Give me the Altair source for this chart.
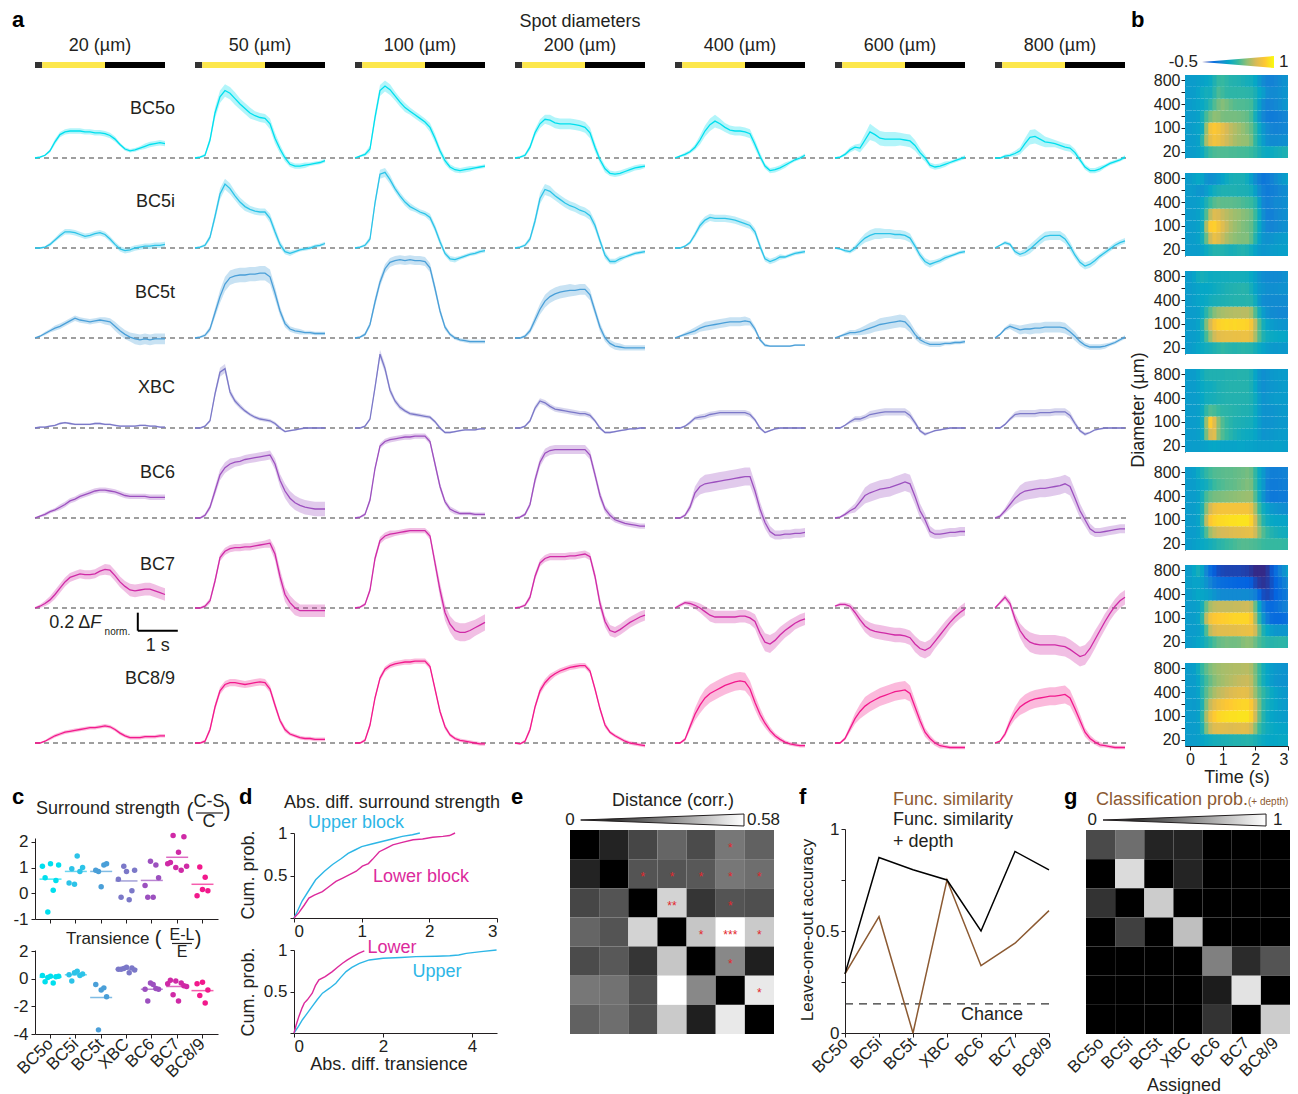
import altair as alt
import pandas as pd

FONT = "Liberation Sans"
INK = "#231f20"
BROWN = "#8c5a32"
CYAN = "#2db6e6"
MAGENTA = "#dc2a9c"

TYPES = ["BC5o", "BC5i", "BC5t", "XBC", "BC6", "BC7", "BC8/9"]
TYPE_COLORS = ["#00dfee", "#2cc3e8", "#4a9fd8", "#7b78c8", "#9c50bf", "#cf2aa6", "#f2198c"]
DIAMS = [20, 50, 100, 200, 400, 600, 800]
DT = 0.125  # s between samples, 27 samples per trace

# ---------------- panel a: mean responses (x100, dF norm.), one list per spot diameter
BC5o_MEAN = [
    [0, 1, 3, 8, 18, 26, 29, 30, 30, 30, 29, 29, 28, 28, 27, 25, 21, 15, 10, 8, 9, 11, 13, 15, 16, 17, 16],
    [0, 1, 3, 20, 50, 68, 75, 72, 66, 60, 55, 50, 47, 45, 44, 38, 22, 10, 0, -7, -9, -9, -8, -7, -6, -5, -3],
    [0, 2, 4, 10, 45, 75, 80, 76, 69, 62, 56, 52, 48, 44, 40, 34, 22, 8, -3, -10, -13, -14, -13, -12, -11, -10, -9],
    [0, 1, 3, 12, 28, 38, 43, 42, 39, 38, 38, 38, 37, 36, 34, 28, 12, -2, -12, -17, -18, -17, -15, -13, -11, -10, -9],
    [0, 2, 4, 7, 12, 20, 30, 37, 41, 38, 34, 31, 30, 30, 29, 27, 15, 2, -9, -14, -13, -11, -8, -5, -2, 0, 3],
    [0, 1, 4, 9, 12, 11, 20, 29, 26, 22, 21, 21, 21, 21, 20, 19, 14, 6, 0, -8, -10, -9, -7, -5, -3, -1, 1],
    [0, 0, 2, 3, 5, 8, 16, 23, 24, 21, 18, 17, 16, 14, 12, 11, 6, -2, -10, -14, -14, -12, -9, -6, -4, -2, 1],
]
BC5i_MEAN = [
    [0, 0, 1, 4, 9, 14, 18, 18, 17, 15, 13, 14, 16, 17, 15, 10, 4, -1, -3, -2, 0, 1, 2, 2, 3, 3, 4],
    [0, 1, 3, 12, 35, 60, 71, 66, 58, 51, 46, 43, 41, 40, 40, 33, 18, 4, -4, -6, -4, -2, -1, 0, 2, 3, 5],
    [0, 1, 3, 10, 50, 82, 84, 76, 66, 58, 51, 46, 43, 40, 38, 34, 22, 7, -6, -12, -13, -11, -9, -7, -6, -4, -3],
    [0, 1, 3, 10, 30, 55, 65, 63, 58, 54, 50, 47, 45, 42, 40, 36, 25, 8, -8, -15, -15, -12, -10, -8, -6, -5, -4],
    [0, 0, 2, 6, 15, 25, 31, 34, 33, 33, 33, 32, 31, 29, 27, 25, 18, 2, -12, -15, -13, -10, -10, -8, -6, -5, -4],
    [0, -1, -3, -4, 0, 6, 11, 14, 16, 16, 16, 16, 15, 15, 14, 11, 2, -8, -15, -18, -16, -14, -11, -9, -7, -5, -4],
    [0, 3, 6, 4, -4, -7, -5, -1, 4, 9, 13, 14, 14, 14, 10, 2, -8, -16, -20, -18, -14, -9, -5, -1, 3, 6, 8],
]
BC5t_MEAN = [
    [0, 2, 5, 8, 11, 13, 16, 19, 22, 20, 19, 18, 19, 20, 19, 18, 13, 8, 4, 1, -1, -2, -1, -2, -1, -1, -1],
    [0, 1, 3, 10, 28, 46, 60, 67, 69, 70, 70, 71, 71, 72, 72, 68, 50, 30, 16, 10, 8, 7, 6, 6, 5, 5, 5],
    [0, 1, 4, 15, 40, 62, 77, 84, 86, 87, 86, 87, 86, 86, 85, 78, 55, 30, 12, 4, 0, -2, -3, -4, -4, -4, -4],
    [0, 0, 2, 8, 20, 32, 41, 46, 49, 51, 52, 53, 53, 54, 54, 48, 30, 12, 0, -6, -9, -10, -11, -11, -11, -11, -11],
    [0, 2, 4, 6, 8, 11, 13, 14, 15, 16, 17, 18, 18, 18, 19, 18, 10, -2, -8, -9, -9, -9, -9, -9, -8, -8, -8],
    [0, 2, 4, 6, 6, 7, 9, 11, 13, 15, 16, 17, 18, 19, 18, 12, 4, -2, -5, -7, -7, -7, -6, -6, -5, -5, -4],
    [0, 4, 10, 13, 11, 9, 10, 10, 11, 11, 12, 12, 12, 12, 11, 7, 2, -4, -8, -10, -10, -10, -9, -7, -5, -2, 1],
]
XBC_MEAN = [
    [0, 1, 1, 2, 3, 5, 6, 5, 4, 4, 4, 4, 5, 5, 4, 4, 3, 2, 2, 2, 2, 3, 3, 2, 2, 1, 1],
    [0, 0, 2, 8, 38, 62, 66, 40, 30, 24, 19, 15, 12, 10, 9, 8, 5, 0, -4, -3, -2, -1, 0, 0, 0, 0, 0],
    [0, 0, 2, 10, 45, 82, 66, 42, 30, 23, 19, 16, 15, 14, 13, 12, 7, 0, -5, -5, -4, -3, -2, -2, -2, -1, -1],
    [0, 0, 2, 8, 22, 30, 28, 24, 21, 20, 19, 18, 17, 16, 16, 14, 8, 0, -5, -5, -4, -3, -2, -1, -1, 0, 0],
    [0, 0, 2, 6, 11, 12, 13, 15, 16, 17, 17, 17, 17, 17, 17, 15, 9, 0, -5, -3, -1, 0, 0, 0, 0, 0, 0],
    [0, 0, 3, 7, 10, 10, 12, 15, 16, 17, 18, 18, 18, 18, 18, 14, 6, -3, -7, -5, -3, -2, -1, 0, 0, 0, 0],
    [0, 0, 4, 10, 15, 16, 16, 16, 16, 17, 17, 17, 18, 18, 18, 14, 5, -3, -7, -5, -2, -1, 0, 0, 0, 0, 0],
]
BC6_MEAN = [
    [0, 2, 4, 7, 9, 12, 15, 19, 21, 24, 26, 28, 30, 31, 31, 30, 29, 27, 25, 24, 24, 24, 24, 23, 23, 23, 23],
    [0, 0, 3, 12, 30, 48, 56, 60, 62, 63, 65, 66, 67, 68, 69, 70, 60, 42, 30, 22, 17, 14, 12, 11, 10, 10, 10],
    [0, 1, 4, 20, 55, 80, 85, 87, 88, 89, 90, 90, 91, 91, 91, 85, 60, 35, 18, 10, 7, 5, 5, 5, 4, 4, 4],
    [0, 1, 4, 15, 42, 62, 72, 75, 76, 76, 76, 76, 76, 76, 76, 70, 48, 25, 10, 3, -2, -4, -6, -7, -8, -9, -9],
    [0, 0, 3, 12, 28, 35, 38, 39, 40, 41, 42, 43, 44, 45, 46, 46, 30, 10, -5, -15, -19, -19, -18, -18, -17, -17, -16],
    [0, 1, 4, 8, 11, 18, 25, 28, 30, 32, 33, 34, 36, 38, 40, 38, 24, 8, -2, -15, -18, -18, -17, -16, -16, -15, -15],
    [0, 2, 8, 15, 22, 27, 30, 31, 32, 33, 33, 34, 35, 36, 38, 35, 22, 8, -2, -12, -16, -16, -15, -14, -13, -12, -12],
]
BC7_MEAN = [
    [0, 2, 5, 9, 15, 22, 29, 34, 36, 38, 37, 37, 38, 41, 43, 42, 36, 29, 24, 20, 19, 20, 21, 21, 19, 17, 15],
    [0, 0, 2, 8, 30, 56, 63, 66, 67, 67, 68, 68, 69, 70, 71, 72, 60, 35, 15, 6, 0, -3, -3, -3, -3, -3, -3],
    [0, 1, 4, 20, 55, 75, 80, 82, 83, 84, 85, 86, 86, 86, 86, 80, 50, 20, -5, -18, -25, -27, -27, -25, -22, -19, -16],
    [0, 1, 3, 12, 35, 50, 55, 57, 57, 57, 57, 58, 58, 59, 60, 57, 35, 5, -15, -25, -27, -24, -20, -16, -13, -10, -8],
    [0, 3, 6, 5, 3, 0, -4, -8, -10, -10, -10, -10, -10, -9, -9, -11, -15, -28, -38, -40, -36, -30, -25, -21, -17, -14, -12],
    [2, 4, 4, 2, -5, -13, -20, -24, -26, -27, -28, -29, -30, -30, -31, -33, -40, -45, -47, -44, -37, -30, -23, -16, -10, -5, -1],
    [0, 6, 12, 5, -12, -25, -33, -38, -40, -41, -41, -41, -41, -42, -43, -46, -50, -54, -52, -45, -35, -25, -15, -6, 2, 8, 12],
]
BC89_MEAN = [
    [0, 0, 2, 5, 8, 10, 12, 13, 14, 15, 16, 17, 17, 18, 19, 18, 15, 11, 8, 6, 6, 6, 7, 7, 7, 8, 8],
    [0, 0, 2, 15, 40, 58, 65, 67, 67, 66, 65, 66, 67, 68, 67, 60, 42, 25, 15, 10, 8, 6, 5, 5, 4, 4, 4],
    [0, 0, 3, 20, 50, 72, 82, 86, 88, 89, 90, 90, 91, 91, 91, 85, 60, 35, 18, 9, 5, 3, 2, 1, 0, -1, -1],
    [0, -1, 2, 15, 40, 58, 67, 73, 77, 80, 82, 84, 85, 86, 86, 80, 60, 38, 20, 12, 8, 5, 2, 0, -1, -2, -3],
    [0, 0, 4, 18, 32, 42, 50, 55, 58, 61, 64, 66, 68, 69, 68, 60, 45, 32, 22, 14, 8, 4, 1, -1, -2, -3, -3],
    [0, 0, 5, 16, 27, 35, 41, 45, 48, 51, 53, 55, 57, 58, 59, 55, 40, 25, 12, 5, 0, -3, -4, -5, -5, -5, -5],
    [0, 2, 10, 23, 33, 40, 44, 47, 49, 50, 51, 52, 52, 53, 54, 50, 38, 25, 12, 5, 1, -2, -3, -4, -5, -5, -5],
]

# s.e.m. (x100)
BC5o_SEM = [
    [1, 1, 1, 2, 3, 3, 3, 3, 3, 3, 3, 3, 3, 3, 3, 3, 3, 2, 2, 2, 2, 2, 3, 3, 3, 3, 3],
    [1, 1, 2, 4, 6, 7, 7, 7, 7, 6, 6, 6, 5, 5, 5, 6, 6, 5, 4, 3, 3, 3, 3, 2, 2, 2, 2],
    [1, 1, 2, 4, 6, 6, 6, 6, 5, 5, 5, 4, 4, 4, 4, 5, 5, 4, 4, 3, 3, 3, 3, 3, 2, 2, 2],
    [1, 1, 2, 3, 4, 5, 5, 6, 6, 6, 6, 6, 6, 6, 6, 6, 5, 4, 4, 3, 3, 3, 3, 3, 3, 3, 2],
    [1, 1, 2, 2, 3, 5, 6, 7, 7, 6, 5, 5, 5, 5, 5, 5, 5, 4, 3, 3, 3, 3, 3, 2, 2, 2, 2],
    [1, 1, 2, 3, 3, 5, 7, 9, 8, 8, 8, 8, 8, 7, 7, 7, 6, 5, 4, 3, 3, 3, 3, 2, 2, 2, 2],
    [1, 1, 2, 2, 3, 4, 6, 8, 8, 7, 6, 5, 4, 4, 4, 4, 4, 3, 3, 3, 3, 3, 2, 2, 2, 2, 2],
]
BC5i_SEM = [
    [1, 1, 1, 2, 2, 3, 3, 3, 3, 3, 3, 3, 3, 3, 3, 3, 3, 3, 3, 3, 3, 3, 3, 3, 3, 3, 3],
    [1, 1, 2, 3, 5, 6, 6, 6, 5, 5, 5, 4, 4, 4, 4, 5, 5, 4, 3, 3, 2, 2, 2, 2, 2, 2, 2],
    [1, 1, 2, 3, 5, 5, 5, 5, 4, 4, 4, 4, 3, 3, 3, 4, 4, 4, 3, 3, 3, 2, 2, 2, 2, 2, 2],
    [1, 1, 2, 3, 5, 6, 6, 6, 5, 5, 5, 5, 5, 5, 5, 5, 5, 4, 4, 3, 3, 3, 2, 2, 2, 2, 2],
    [1, 1, 1, 2, 3, 4, 4, 4, 4, 4, 4, 4, 4, 4, 4, 4, 4, 4, 3, 3, 3, 3, 2, 2, 2, 2, 2],
    [1, 1, 2, 2, 3, 4, 5, 6, 6, 6, 5, 5, 5, 5, 5, 5, 4, 4, 4, 4, 3, 3, 3, 2, 2, 2, 2],
    [1, 1, 2, 2, 3, 3, 4, 5, 5, 5, 5, 5, 5, 5, 5, 5, 4, 4, 4, 4, 4, 3, 3, 3, 3, 3, 3],
]
BC5t_SEM = [
    [1, 1, 2, 2, 3, 3, 3, 3, 3, 3, 3, 3, 3, 3, 4, 4, 5, 5, 5, 5, 6, 6, 6, 6, 6, 6, 6],
    [1, 1, 2, 3, 5, 7, 8, 8, 8, 8, 8, 8, 8, 8, 8, 8, 7, 5, 4, 3, 3, 3, 2, 2, 2, 2, 2],
    [1, 1, 2, 3, 5, 5, 5, 5, 5, 5, 5, 5, 5, 5, 5, 5, 5, 4, 3, 2, 2, 2, 2, 2, 2, 2, 2],
    [1, 1, 2, 3, 5, 6, 7, 7, 7, 7, 7, 7, 6, 6, 6, 6, 5, 5, 4, 4, 4, 4, 3, 3, 3, 3, 3],
    [1, 1, 2, 3, 4, 4, 5, 5, 5, 5, 5, 5, 5, 5, 5, 4, 3, 2, 2, 1, 1, 1, 1, 1, 1, 1, 1],
    [1, 1, 2, 3, 3, 4, 5, 6, 6, 7, 7, 7, 7, 7, 7, 6, 5, 4, 3, 3, 3, 3, 2, 2, 2, 2, 2],
    [1, 1, 2, 3, 4, 5, 5, 6, 6, 6, 6, 6, 6, 6, 6, 5, 5, 4, 3, 3, 3, 3, 3, 2, 2, 2, 2],
]
XBC_SEM = [
    [1, 1, 1, 1, 1, 1, 1, 1, 1, 1, 1, 1, 1, 1, 1, 1, 1, 1, 1, 1, 1, 1, 1, 1, 1, 1, 1],
    [1, 1, 1, 2, 4, 5, 5, 4, 3, 3, 2, 2, 2, 2, 2, 2, 2, 2, 1, 1, 1, 1, 1, 1, 1, 1, 1],
    [1, 1, 1, 2, 4, 5, 5, 4, 3, 3, 2, 2, 2, 2, 2, 2, 2, 2, 1, 1, 1, 1, 1, 1, 1, 1, 1],
    [1, 1, 1, 2, 3, 3, 3, 3, 3, 3, 3, 3, 3, 3, 3, 3, 2, 2, 1, 1, 1, 1, 1, 1, 1, 1, 1],
    [1, 1, 1, 2, 2, 3, 3, 3, 3, 3, 3, 3, 3, 3, 3, 3, 2, 2, 1, 1, 1, 1, 1, 1, 1, 1, 1],
    [1, 1, 1, 2, 3, 3, 3, 4, 4, 4, 4, 4, 4, 4, 4, 4, 3, 2, 2, 1, 1, 1, 1, 1, 1, 1, 1],
    [1, 1, 1, 2, 3, 4, 4, 4, 4, 4, 4, 4, 4, 4, 4, 4, 3, 2, 2, 1, 1, 1, 1, 1, 1, 1, 1],
]
BC6_SEM = [
    [1, 1, 2, 2, 2, 3, 3, 3, 3, 3, 3, 3, 3, 3, 3, 3, 3, 3, 3, 3, 3, 3, 3, 3, 3, 3, 3],
    [1, 1, 2, 3, 5, 6, 6, 6, 5, 5, 5, 5, 5, 5, 5, 5, 6, 7, 8, 8, 8, 8, 8, 8, 8, 8, 8],
    [1, 1, 2, 3, 3, 3, 3, 3, 3, 3, 3, 3, 3, 3, 3, 3, 4, 4, 3, 3, 3, 2, 2, 2, 2, 2, 2],
    [1, 1, 2, 3, 5, 5, 5, 5, 5, 5, 5, 5, 5, 5, 5, 5, 5, 5, 4, 4, 3, 3, 3, 3, 3, 3, 3],
    [1, 1, 2, 4, 7, 9, 10, 10, 10, 10, 10, 10, 10, 10, 10, 10, 9, 8, 7, 6, 5, 5, 5, 5, 5, 5, 5],
    [1, 1, 2, 3, 5, 7, 9, 10, 10, 10, 10, 10, 10, 10, 10, 10, 9, 8, 7, 6, 5, 5, 5, 5, 5, 5, 5],
    [1, 2, 3, 5, 7, 9, 10, 10, 10, 10, 10, 10, 10, 10, 10, 10, 9, 8, 7, 6, 5, 5, 5, 5, 5, 5, 5],
]
BC7_SEM = [
    [1, 2, 3, 4, 5, 5, 5, 5, 5, 5, 5, 5, 5, 5, 6, 6, 6, 6, 6, 7, 7, 7, 7, 7, 7, 7, 7],
    [1, 1, 2, 3, 4, 4, 4, 4, 4, 4, 4, 4, 4, 4, 4, 5, 7, 8, 8, 8, 8, 7, 7, 7, 7, 7, 7],
    [1, 1, 2, 3, 4, 4, 4, 4, 3, 3, 3, 3, 3, 3, 3, 4, 6, 8, 9, 9, 10, 10, 10, 10, 9, 9, 9],
    [1, 1, 2, 3, 4, 4, 4, 4, 4, 4, 4, 4, 4, 4, 4, 4, 5, 6, 6, 6, 6, 6, 6, 6, 6, 6, 6],
    [1, 2, 2, 3, 4, 5, 6, 7, 7, 7, 7, 7, 7, 7, 7, 7, 8, 9, 10, 10, 9, 9, 8, 8, 7, 7, 7],
    [1, 2, 2, 3, 5, 6, 7, 8, 8, 8, 8, 8, 8, 8, 8, 8, 9, 9, 9, 9, 8, 8, 8, 7, 7, 7, 7],
    [1, 2, 3, 4, 6, 8, 10, 11, 11, 11, 11, 11, 11, 11, 11, 11, 11, 11, 11, 10, 10, 9, 9, 8, 8, 8, 8],
]
BC89_SEM = [
    [1, 1, 1, 2, 2, 2, 2, 2, 2, 2, 2, 2, 2, 2, 2, 2, 2, 2, 2, 2, 2, 2, 2, 2, 2, 2, 2],
    [1, 1, 2, 3, 4, 4, 4, 4, 4, 4, 4, 4, 4, 4, 4, 4, 4, 3, 3, 2, 2, 2, 2, 2, 2, 2, 2],
    [1, 1, 2, 3, 3, 3, 3, 3, 3, 3, 3, 3, 3, 3, 3, 3, 3, 3, 3, 2, 2, 2, 2, 2, 2, 2, 2],
    [1, 1, 2, 3, 3, 4, 4, 4, 3, 3, 3, 3, 3, 3, 3, 3, 3, 3, 3, 2, 2, 2, 2, 2, 2, 2, 2],
    [1, 1, 2, 4, 7, 9, 10, 10, 10, 10, 10, 10, 10, 10, 10, 9, 8, 7, 5, 4, 3, 3, 2, 2, 2, 2, 2],
    [1, 1, 2, 4, 6, 8, 10, 10, 10, 10, 10, 10, 10, 10, 10, 9, 8, 7, 5, 4, 3, 3, 2, 2, 2, 2, 2],
    [1, 1, 3, 5, 7, 9, 10, 10, 10, 10, 10, 10, 10, 10, 10, 9, 8, 7, 5, 4, 3, 3, 2, 2, 2, 2, 2],
]

MEANS = [BC5o_MEAN, BC5i_MEAN, BC5t_MEAN, XBC_MEAN, BC6_MEAN, BC7_MEAN, BC89_MEAN]
SEMS = [BC5o_SEM, BC5i_SEM, BC5t_SEM, XBC_SEM, BC6_SEM, BC7_SEM, BC89_SEM]

# stimulus bar (s) and its colours
STIM_START = [0.0, 0.18, 1.75]
STIM_END = [0.18, 1.75, 3.25]
STIM_FILL = ["#333333", "#fde74c", "#000000"]

# layout of panel a: grid slots of 45 px, a trace row every second slot (wider gap before BC8/9)
TYPE_SLOT = [0, 2, 4, 6, 8, 10, 13]
N_SLOTS = 14
LABEL_Y = [0.55, 0.51, 0.5, 0.45, 0.5, 0.48, 0.71]
SCALEBAR_T = [2.57, 3.57]
SCALEBAR_V = [-0.052, -0.252]

# parula colour map, panel b
PARULA_STOPS = [-0.5, -0.3125, -0.125, 0.0625, 0.25, 0.4375, 0.625, 0.8125, 1.0]
PARULA_COLORS = ["#352a87", "#0363e1", "#1485d4", "#06a7c6", "#38b99e", "#92bf73", "#d9ba56", "#fec832", "#f9fb0e"]

# ---------------- panel c
SURR = [
    [1.05, 0.6, -0.73, 1.15, 0.12, 0.5, 1.1],
    [0.4, 0.95, 0.35, 1.45, 0.85, 1.0],
    [0.9, 0.85, 0.25, 1.1, 1.15],
    [0.55, -0.15, 1.05, 0.85, -0.25, 0.1, 0.9],
    [0.3, -0.15, 1.25, -0.15, 1.1, 0.6],
    [1.15, 1.2, 2.25, 1.0, 1.6, 0.9, 2.2, 1.05],
    [-0.1, 1.02, 0.15, 0.62, 0.1],
]
SURR_MED = [0.55, 0.85, 0.85, 0.48, 0.5, 1.4, 0.35]
TRANS = [
    [0.25, -0.2, 0.1, 0.2, -0.3, 0.15, 0.2],
    [0.3, -0.15, 0.45, 0.55, 0.25, 0.35],
    [-0.4, -3.7, -0.8, -0.65, -1.3],
    [0.7, 0.7, 0.75, 0.85, 0.45, 0.8, 0.65],
    [-0.75, -1.6, -0.3, -0.4, -0.7, -0.75],
    [-0.35, -0.1, -1.15, -0.15, -1.6, -0.3, -0.5, -0.55],
    [-0.35, -1.2, -0.25, -1.75, -0.8],
]
TRANS_MED = [0.12, 0.3, -1.35, 0.7, -0.75, -0.55, -0.85]
SLOTS = [-3.5, -3.0, -2.5, -2.0, -1.5, -1.0, -0.5, 0.0, 0.5, 1.0, 1.5, 2.0, 2.5, 3.0, 3.5]

# ---------------- panel d (cumulative distributions)
D1_UP_X = [0, 0.05, 0.12, 0.2, 0.32, 0.45, 0.57, 0.7, 0.8, 0.9, 1.0, 1.15, 1.3, 1.45, 1.6, 1.75, 1.86]
D1_UP_Y = [0, 0.08, 0.2, 0.3, 0.45, 0.55, 0.63, 0.7, 0.76, 0.8, 0.84, 0.87, 0.9, 0.93, 0.96, 0.98, 1.0]
D1_LO_X = [0, 0.07, 0.15, 0.22, 0.3, 0.42, 0.52, 0.62, 0.72, 0.82, 0.92, 1.01, 1.1, 1.16, 1.26, 1.36, 1.46, 1.6, 1.76, 1.9, 2.05, 2.2, 2.3, 2.38]
D1_LO_Y = [0, 0.06, 0.15, 0.235, 0.27, 0.31, 0.37, 0.43, 0.47, 0.51, 0.55, 0.61, 0.64, 0.69, 0.78, 0.82, 0.86, 0.89, 0.92, 0.93, 0.95, 0.96, 0.97, 1.0]
D2_LO_X = [0, 0.05, 0.11, 0.18, 0.23, 0.3, 0.41, 0.48, 0.56, 0.7, 0.86, 0.97, 1.09, 1.2, 1.32, 1.45, 1.58]
D2_LO_Y = [0, 0.1, 0.2, 0.3, 0.36, 0.4, 0.48, 0.57, 0.64, 0.68, 0.74, 0.79, 0.84, 0.88, 0.92, 0.96, 0.99]
D2_UP_X = [0, 0.1, 0.19, 0.3, 0.41, 0.52, 0.64, 0.8, 0.94, 1.05, 1.17, 1.3, 1.47, 1.69, 2.0, 2.4, 2.74, 3.2, 3.5, 3.7, 3.87, 4.2, 4.55]
D2_UP_Y = [0, 0.08, 0.16, 0.24, 0.32, 0.4, 0.48, 0.54, 0.6, 0.67, 0.74, 0.79, 0.84, 0.88, 0.9, 0.91, 0.92, 0.925, 0.93, 0.94, 0.96, 0.98, 1.0]

# ---------------- panel e
E_DIST = [
    [0.00, 0.08, 0.16, 0.23, 0.17, 0.27, 0.22],
    [0.08, 0.00, 0.19, 0.19, 0.20, 0.27, 0.25],
    [0.16, 0.19, 0.00, 0.48, 0.12, 0.19, 0.18],
    [0.23, 0.19, 0.48, 0.00, 0.45, 0.58, 0.46],
    [0.17, 0.20, 0.12, 0.45, 0.00, 0.31, 0.07],
    [0.27, 0.26, 0.18, 0.58, 0.31, 0.00, 0.53],
    [0.22, 0.25, 0.18, 0.46, 0.07, 0.53, 0.00],
]
E_STARS = [
    ["", "", "", "", "", "*", ""],
    ["", "", "*", "*", "*", "*", "*"],
    ["", "", "", "**", "", "*", ""],
    ["", "", "", "", "*", "***", "*"],
    ["", "", "", "", "", "*", ""],
    ["", "", "", "", "", "", "*"],
    ["", "", "", "", "", "", ""],
]
E_MAX = 0.58

# ---------------- panel f
F_FUNC = [0.29, 0.57, 0.0, 0.75, 0.33, 0.44, 0.6]
F_DEPTH = [0.29, 0.86, 0.8, 0.75, 0.5, 0.89, 0.8]
CHANCE = 0.143

# ---------------- panel g
G_PROB = [
    [0.29, 0.43, 0.14, 0.14, 0.0, 0.0, 0.0],
    [0.0, 0.86, 0.0, 0.14, 0.0, 0.0, 0.0],
    [0.2, 0.0, 0.8, 0.0, 0.0, 0.0, 0.0],
    [0.0, 0.25, 0.0, 0.75, 0.0, 0.0, 0.0],
    [0.0, 0.0, 0.0, 0.0, 0.5, 0.17, 0.33],
    [0.0, 0.0, 0.0, 0.0, 0.11, 0.89, 0.0],
    [0.0, 0.0, 0.0, 0.0, 0.2, 0.0, 0.8],
]

# =====================================================================
ONE = pd.DataFrame({"o": [0]})
TS = 18  # annotation font size

recs = []
for k, typ in enumerate(TYPES):
    for di, d in enumerate(DIAMS):
        for i, (m, s) in enumerate(zip(MEANS[k][di], SEMS[k][di])):
            v = m / 100.0
            e = s / 100.0
            recs.append(dict(type=typ, slot=TYPE_SLOT[k], laby=LABEL_Y[k], diam=d, i=i, t=i * DT,
                             v=v, lo=v - e, hi=v + e))
df_tr = pd.DataFrame(recs)
pad_df = pd.DataFrame([dict(slot=s, diam=d) for s in range(N_SLOTS) if s not in TYPE_SLOT for d in DIAMS])
df_grid = pd.concat([df_tr, pad_df], ignore_index=True)
stim_df = pd.DataFrame([dict(diam=d, seg=s, s0=STIM_START[s], s1=STIM_END[s], fill=STIM_FILL[s])
                        for d in DIAMS for s in range(3)])


def annot(text, x, y, size=TS, color=INK, align="center", angle=None, weight="normal",
          style="normal", baseline="middle"):
    kw = dict(text=text, fontSize=size, color=color, align=align, baseline=baseline,
              fontWeight=weight, fontStyle=style)
    if angle is not None:
        kw["angle"] = angle
    return alt.Chart(ONE).mark_text(**kw).encode(x=alt.value(x), y=alt.value(y))


def letter(ch, x, y):
    return annot(ch, x, y, size=22, color="black", align="left", weight="bold")


def strip(width, height, *layers):
    return alt.layer(*layers).properties(width=width, height=height)


# ---------------- panel a header: one small chart per spot diameter
hx = alt.Scale(domain=[0, 3.25], nice=False, zero=False)
hy = alt.Scale(domain=[-1, 1], nice=False, zero=False)


def header_cell(k, d):
    bar = alt.Chart(stim_df[stim_df.diam == d]).mark_rect().encode(
        x=alt.X("s0:Q", scale=hx, axis=None), x2="s1:Q",
        y=alt.YDatum(0, scale=hy, axis=None), y2=alt.datum(-1),
        color=alt.Color("fill:N", scale=None))
    layers = [bar, annot(f"{d} (µm)", 65, -10)]
    if d == 200:
        layers.append(annot("Spot diameters", 65, -34))
    if k == 0:
        layers.append(letter("a", -23, -36))
    return alt.layer(*layers).properties(width=130, height=12)


header = alt.hconcat(*[header_cell(k, d) for k, d in enumerate(DIAMS)], spacing=30)

# ---------------- panel a traces: facet rows = slots (45 px), columns = spot diameter
XS = alt.Scale(domain=[0, 3.25], nice=False, zero=False)
YS = alt.Scale(domain=[-0.3, 0.2], nice=False, zero=False)
XA = alt.X("t:Q", scale=XS, axis=None)
TCOL = alt.Color("type:N", scale=alt.Scale(domain=TYPES, range=TYPE_COLORS), legend=None)
LAB = "datum.diam == 20 && datum.i == 0"

t_layers = [
    alt.Chart().mark_rule(color="#808080", strokeDash=[5, 4], strokeWidth=1.3).transform_filter(
        "datum.i == 0").transform_calculate(rule_end="datum.diam == 800 ? 3.3 : 4.0").encode(
        x=XA, x2="rule_end:Q", y=alt.YDatum(0, scale=YS, axis=None)),
    alt.Chart().mark_area(opacity=0.3, orient="vertical").encode(
        x=XA, y=alt.Y("lo:Q", scale=YS, axis=None), y2="hi:Q", color=TCOL),
    alt.Chart().mark_line(strokeWidth=1.3).encode(
        x=XA, y=alt.Y("v:Q", scale=YS, axis=None), color=TCOL),
    alt.Chart().mark_text(align="right", baseline="middle", fontSize=TS, color=INK).transform_filter(LAB).encode(
        x=alt.datum(3.5), y=alt.Y("laby:Q", scale=YS, axis=None), text="type:N"),
]
SB = LAB + " && datum.type == 'BC7'"
t_layers.append(alt.Chart().mark_rule(color="black", strokeWidth=2).transform_filter(SB).encode(
    x=alt.datum(SCALEBAR_T[0]), y=alt.datum(SCALEBAR_V[0]), y2=alt.datum(SCALEBAR_V[1])))
t_layers.append(alt.Chart().mark_rule(color="black", strokeWidth=2).transform_filter(SB).encode(
    x=alt.datum(SCALEBAR_T[0]), x2=alt.datum(SCALEBAR_T[1]), y=alt.datum(SCALEBAR_V[1])))
for txt, tx, ty, sz, al, st in [("0.2 Δ", 1.38, -0.167, TS, "right", "normal"),
                                ("F", 1.38, -0.167, TS, "left", "italic"),
                                ("norm.", 1.74, -0.27, 10, "left", "normal"),
                                ("1 s", 3.07, -0.42, TS, "center", "normal")]:
    t_layers.append(alt.Chart().mark_text(text=txt, align=al, baseline="middle", fontSize=sz,
                                          fontStyle=st, color=INK).transform_filter(SB).encode(
        x=alt.datum(tx), y=alt.datum(ty)))

traces = alt.layer(*t_layers).properties(width=130, height=45).facet(
    row=alt.Row("slot:O", title=None, header=alt.Header(labels=False, title=None)),
    column=alt.Column("diam:O", title=None, header=alt.Header(labels=False, title=None)),
    data=df_grid, spacing={"row": 0, "column": 30}, bounds="flush")

panel_a = alt.vconcat(header, traces, spacing=12)


# ---------------- colour wedges
def wedge_layer(vmin, vmax, xdom, stops, outline):
    grad = alt.Gradient(gradient="linear",
                        stops=[alt.GradientStop(color=c, offset=o) for o, c in stops],
                        x1=0, x2=1, y1=0, y2=0)
    mk = dict(fill=grad, orient="vertical")
    if outline:
        mk.update(stroke=INK, strokeWidth=1)
    else:
        mk.update(strokeWidth=0)
    span = vmax - vmin
    return alt.Chart(pd.DataFrame({"wx": [vmin, vmax]})).transform_calculate(
        hi=f"(datum.wx - ({vmin})) / {span}", lo=f"-(datum.wx - ({vmin})) / {span}").mark_area(**mk).encode(
        x=alt.X("wx:Q", scale=alt.Scale(domain=xdom, nice=False, zero=False), axis=None),
        y=alt.Y("hi:Q", scale=alt.Scale(domain=[-1, 1], nice=False, zero=False), axis=None),
        y2="lo:Q")


def cb_text(txt, xval, dx, align):
    return alt.Chart(ONE).mark_text(text=txt, dx=dx, align=align, baseline="middle", fontSize=17,
                                    color=INK).encode(x=alt.datum(xval), y=alt.value(6))


# ---------------- panel b
p_stops = [((v - PARULA_STOPS[0]) / (PARULA_STOPS[-1] - PARULA_STOPS[0]), c) for v, c in zip(PARULA_STOPS, PARULA_COLORS)]
b_cb = alt.layer(
    wedge_layer(-0.5, 1.0, [-0.854, 1.292], p_stops, False),
    cb_text("-0.5", -0.5, -4, "right"),
    cb_text("1", 1.0, 5, "left"),
    letter("b", -54, -36),
).properties(width=103, height=12)

PARULA = alt.Scale(domain=PARULA_STOPS, range=PARULA_COLORS, interpolate="rgb", clamp=True)
heat = alt.Chart().mark_rect(strokeWidth=0).transform_filter("datum.i <= 24").transform_calculate(
    t0="datum.i == 0 ? -0.15 : datum.t - 0.0625", t1="datum.i == 24 ? 3.0 : datum.t + 0.09").encode(
    x=alt.X("t0:Q", scale=alt.Scale(domain=[-0.15, 3.0], nice=False, zero=False),
            axis=alt.Axis(values=[0, 1, 2, 3], title="Time (s)", titlePadding=1, labelFontSize=16,
                          tickSize=4, labelPadding=1, format="d")),
    x2="t1:Q",
    y=alt.Y("diam:O", sort="descending", scale=alt.Scale(paddingInner=0, paddingOuter=0),
            axis=alt.Axis(title=None, tickSize=4, labelFontSize=16, labelPadding=1,
                          labelExpr="(datum.value == 20 || datum.value == 100 || datum.value == 400 || datum.value == 800) ? datum.label : ''")),
    color=alt.Color("v:Q", scale=PARULA, legend=None))
diam_title = alt.Chart().mark_text(text="Diameter (µm)", angle=270, fontSize=TS, color=INK,
                                   baseline="middle").transform_filter(
    "datum.type == 'XBC' && datum.diam == 20 && datum.i == 0").encode(x=alt.value(-46), y=alt.value(41))
heat_facet = alt.layer(heat, diam_title).properties(width=103, height=83).facet(
    row=alt.Row("type:N", sort=TYPES, title=None, header=alt.Header(labels=False, title=None)),
    data=df_tr, spacing=15, bounds="flush")
panel_b = alt.vconcat(b_cb, heat_facet, spacing=2)

top = alt.hconcat(panel_a, panel_b, spacing=2)

# ---------------- panel c
TC = alt.Color("type:N", scale=alt.Scale(domain=TYPES, range=TYPE_COLORS), legend=None)


def dots_df(lists):
    r = []
    for k, vals in enumerate(lists):
        n = len(vals)
        for j, v in enumerate(vals):
            r.append(dict(type=TYPES[k], val=v, slot=j - (n - 1) / 2.0))
    return pd.DataFrame(r)


def c_panel(lists, meds, ydom, yvals, show_labels):
    X = alt.X("type:N", scale=alt.Scale(domain=TYPES, paddingInner=0.2, paddingOuter=0.2125),
              axis=alt.Axis(title=None, labels=show_labels, labelAngle=-45, labelAlign="right",
                            labelBaseline="middle", tickSize=4, labelPadding=3, labelFontSize=17,
                            labelOverlap=False))
    Y = alt.Y("val:Q", scale=alt.Scale(domain=ydom, nice=False, zero=False),
              axis=alt.Axis(values=yvals, title=None, tickSize=4, labelPadding=3, labelExpr="'' + datum.value"))
    dots = alt.Chart(dots_df(lists)).mark_circle(size=30, opacity=1).encode(
        x=X, y=Y, xOffset=alt.XOffset("slot:O", scale=alt.Scale(domain=SLOTS)), color=TC)
    med = alt.Chart(pd.DataFrame({"type": TYPES, "val": meds})).mark_tick(thickness=1.5, size=22).encode(
        x=X, y=Y, color=TC)
    return [dots, med]


c_strip = strip(183, 46,
                letter("c", -23, 11),
                annot("Surround strength", 1, 23, align="left"),
                annot("(", 155, 25, size=21),
                annot("C-S", 174, 16),
                alt.Chart(ONE).mark_rule(color=INK, strokeWidth=1.2).encode(
                    x=alt.value(161), x2=alt.value(188), y=alt.value(27)),
                annot("C", 174, 36),
                annot(")", 192, 25, size=21))
c_top = alt.layer(*c_panel(SURR, SURR_MED, [-1, 2.15], [-1, 0, 1, 2], False)).properties(width=183, height=81)
c_bot = alt.layer(
    *c_panel(TRANS, TRANS_MED, [-4, 2.1], [-4, -2, 0, 2], True),
    annot("Transience", 31, -11, size=17, align="left"),
    annot("(", 123, -11, size=20),
    annot("E-L", 147, -15, size=16),
    alt.Chart(ONE).mark_rule(color=INK, strokeWidth=1.2).encode(x=alt.value(137), x2=alt.value(157), y=alt.value(-6.5)),
    annot("E", 147, 2, size=16),
    annot(")", 163, -11, size=20),
).properties(width=183, height=84)
panel_c = alt.vconcat(c_strip, alt.vconcat(c_top, c_bot, spacing=0), spacing=0)

# ---------------- panel d


def cdf_df(xs, ys, grp):
    return pd.DataFrame({"x": xs, "y": ys, "grp": grp, "idx": list(range(len(xs)))})


DCOL = alt.Color("grp:N", scale=alt.Scale(domain=["Upper", "Lower"], range=[CYAN, MAGENTA]), legend=None)


def d_lines(df, xmax, xvals):
    return alt.Chart(df).mark_line(strokeWidth=1.4).encode(
        x=alt.X("x:Q", scale=alt.Scale(domain=[0, xmax], nice=False, zero=False),
                axis=alt.Axis(values=xvals, title=None, tickSize=4, labelPadding=1, format="d")),
        y=alt.Y("y:Q", scale=alt.Scale(domain=[0, 1], nice=False),
                axis=alt.Axis(values=[0, 0.5, 1], title=None, tickSize=4, labelPadding=3,
                              labelExpr="datum.value == 0 ? '' : '' + datum.value")),
        color=DCOL, order="idx:Q")


d1_df = pd.concat([cdf_df(D1_UP_X, D1_UP_Y, "Upper"), cdf_df(D1_LO_X, D1_LO_Y, "Lower")])
d2_df = pd.concat([cdf_df(D2_UP_X, D2_UP_Y, "Upper"), cdf_df(D2_LO_X, D2_LO_Y, "Lower")])

d_strip = strip(203, 28,
                letter("d", -55, 11),
                annot("Abs. diff. surround strength", 98, 17))
d_top = alt.layer(
    d_lines(d1_df, 3, [0, 1, 2, 3]),
    annot("Upper block", 62, -10, color=CYAN),
    annot("Lower block", 127, 44, color=MAGENTA),
    annot("Cum. prob.", -45, 42, angle=270),
).properties(width=203, height=85)
d_bot = alt.layer(
    d_lines(d2_df, 4.56, [0, 2, 4]),
    annot("Lower", 98, -2, color=MAGENTA),
    annot("Upper", 143, 22, color=CYAN),
    annot("Cum. prob.", -45, 42, angle=270),
    annot("Abs. diff. transience", 95, 115),
).properties(width=203, height=83)
panel_d = alt.vconcat(d_strip, alt.vconcat(d_top, d_bot, spacing=0), spacing=0)

# ---------------- matrices (e, g): cells placed by their row / column index
LABEL_OF = "['BC5o','BC5i','BC5t','XBC','BC6','BC7','BC8/9'][floor(datum.value)]"
CENTRES = [0.5, 1.5, 2.5, 3.5, 4.5, 5.5, 6.5]
MXS = alt.Scale(domain=[0, 7], nice=False, zero=False)
MYS = alt.Scale(domain=[0, 7], nice=False, zero=False, reverse=True)


def matrix_df(values, extra=None):
    r = []
    for i in range(7):
        for j in range(7):
            rec = dict(ri=i, ri1=i + 1, rc=i + 0.5, ci=j, ci1=j + 1, cc=j + 0.5, val=values[i][j])
            if extra is not None:
                rec["star"] = extra[i][j]
            r.append(rec)
    return pd.DataFrame(r)


def matrix_rect(df, vmax, ylabels):
    yaxis = (alt.Axis(values=CENTRES, labelExpr=LABEL_OF, title=None, ticks=False, domain=False,
                      labelPadding=5, labelFontSize=17, labelOverlap=False) if ylabels else None)
    return alt.Chart(df).mark_rect(strokeWidth=0).encode(
        x=alt.X("ci:Q", scale=MXS, axis=alt.Axis(values=CENTRES, labelExpr=LABEL_OF, title=None, labelAngle=-45,
                                                  labelAlign="right", labelBaseline="middle", ticks=False,
                                                  domain=False, labelPadding=6, labelFontSize=17,
                                                  labelOverlap=False)),
        x2="ci1:Q",
        y=alt.Y("ri:Q", scale=MYS, axis=yaxis), y2="ri1:Q",
        color=alt.Color("val:Q", scale=alt.Scale(domain=[0, vmax], range=["#000000", "#ffffff"], interpolate="rgb"),
                        legend=None))


e_df = matrix_df(E_DIST, E_STARS)
e_star = alt.Chart(e_df).mark_text(color="#e3262b", fontSize=12, baseline="middle", dy=3).encode(
    x=alt.X("cc:Q", scale=MXS, axis=None), y=alt.Y("rc:Q", scale=MYS, axis=None), text="star:N")
e_mat = alt.layer(matrix_rect(e_df, E_MAX, True), e_star).properties(width=204, height=204)
e_strip = strip(204, 25,
                letter("e", -59, 11),
                annot("Distance (corr.)", 103, 15))
e_cb = alt.layer(
    wedge_layer(0.0, E_MAX, [-0.038, 0.6866], [(0, "#000000"), (1, "#ffffff")], True),
    cb_text("0", 0.0, -6, "right"),
    cb_text("0.58", E_MAX, 3, "left"),
).properties(width=204, height=12)
panel_e = alt.vconcat(e_strip, alt.vconcat(e_cb, e_mat, spacing=2), spacing=0)

# ---------------- panel f
f_df = pd.DataFrame(
    [dict(type=TYPES[k], acc=F_FUNC[k], series="func", idx=k) for k in range(7)] +
    [dict(type=TYPES[k], acc=F_DEPTH[k], series="depth", idx=k) for k in range(7)])
FY = alt.Y("acc:Q", scale=alt.Scale(domain=[0, 1], nice=False),
           axis=alt.Axis(values=[0, 0.25, 0.5, 0.75, 1], title=None, tickSize=4, labelPadding=2,
                         labelExpr="(datum.value == 0.25 || datum.value == 0.75) ? '' : '' + datum.value"))
f_lines = alt.Chart(f_df).mark_line(strokeWidth=1.5).encode(
    x=alt.X("type:N", scale=alt.Scale(type="point", domain=TYPES, padding=0),
            axis=alt.Axis(title=None, labelAngle=-45, labelAlign="right", labelBaseline="middle",
                          tickSize=4, labelPadding=3, labelFontSize=17, labelOverlap=False)),
    y=FY,
    color=alt.Color("series:N", scale=alt.Scale(domain=["func", "depth"], range=[BROWN, "#000000"]), legend=None),
    detail="series:N", order="idx:Q")
f_chance = alt.Chart(ONE).mark_rule(color="#333333", strokeDash=[8, 6], strokeWidth=1.3).encode(y=alt.datum(CHANCE))
f_strip = strip(204, 25,
                letter("f", -46, 11),
                annot("Func. similarity", 48, 14, align="left", color=BROWN))
f_chart = alt.layer(
    f_chance, f_lines,
    annot("Func. similarity", 48, -9, align="left"),
    annot("+ depth", 48, 13, align="left"),
    annot("Chance", 147, 186),
    annot("Leave-one-out accuracy", -37, 101, size=17, angle=270),
).properties(width=204, height=204)
panel_f = alt.vconcat(f_strip, f_chart, spacing=0)

# ---------------- panel g
g_df = matrix_df(G_PROB)
g_mat = alt.layer(matrix_rect(g_df, 1.0, False), annot("Assigned", 98, 256)).properties(width=204, height=204)
g_strip = strip(204, 25,
                letter("g", -22, 11),
                annot("Classification prob.", 10, 14, align="left", color=BROWN),
                annot("(+ depth)", 162, 16, size=10, align="left", color=BROWN))
g_cb = alt.layer(
    wedge_layer(0.0, 1.0, [-0.1043, 1.147], [(0, "#000000"), (1, "#ffffff")], True),
    cb_text("0", 0.0, -6, "right"),
    cb_text("1", 1.0, 7, "left"),
).properties(width=204, height=12)
panel_g = alt.vconcat(g_strip, alt.vconcat(g_cb, g_mat, spacing=2), spacing=0)

bottom = alt.hconcat(
    panel_c,
    alt.hconcat(panel_d,
                alt.hconcat(panel_e,
                            alt.hconcat(panel_f, panel_g, spacing=9),
                            spacing=17),
                spacing=11),
    spacing=8)

chart = alt.vconcat(top, bottom, spacing=0).properties(
    padding={"left": 12, "top": 9, "right": 0, "bottom": 0}, background="white"
).configure_view(stroke=None).configure_axis(
    labelFont=FONT, titleFont=FONT, labelColor=INK, titleColor=INK, domainColor=INK, tickColor=INK,
    titleFontWeight="normal", grid=False, labelFontSize=17, titleFontSize=TS, domainWidth=1, tickWidth=1
).configure_text(font=FONT, color=INK)

chart.save("out.html", embed_options={"renderer": "svg", "actions": False})
